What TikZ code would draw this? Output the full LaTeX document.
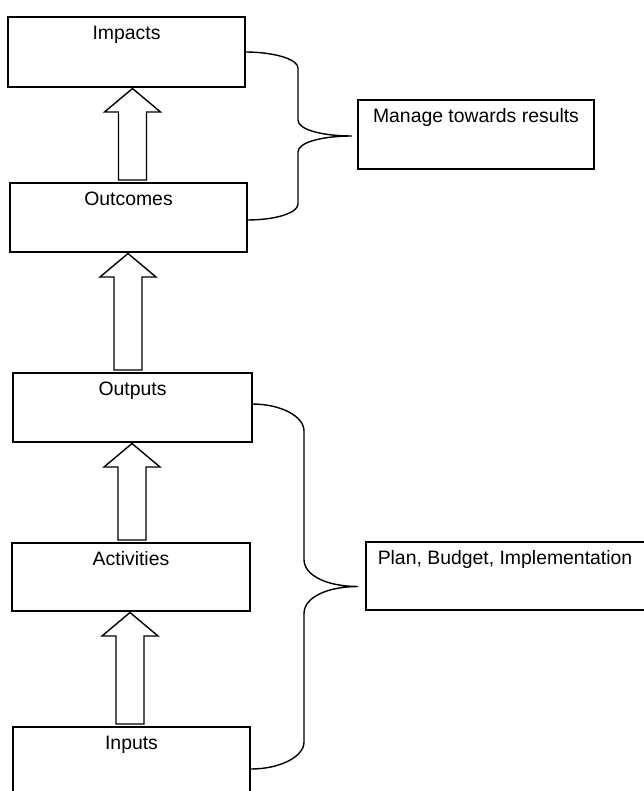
\documentclass[tikz,border=0pt]{standalone}
\usepackage{fontspec}
\setmainfont{Liberation Sans}
\usetikzlibrary{calc}
\tikzset{
  boxnode/.style={draw=black, line width=1.4pt, rectangle, inner sep=0pt, outer sep=0pt},
  lbl/.style={font=\fontsize{19.4}{23}\selectfont, inner sep=0pt, anchor=base, text=black},
  blk/.style={draw=black, line width=1.4pt, fill=white, line join=miter},
  brc/.style={draw=black, line width=1.4pt},
}
% block arrow from bottom box #2 up to top box #1, shifted by #3
\newcommand\blockarr[3]{%
  \draw[blk] let \p1=([xshift=#3]#1.south), \p2=(#2.north) in
    (\x1,\y1-1.5pt) -- (\x1+28pt,\y1-25pt) -- (\x1+14pt,\y1-25pt) -- (\x1+14pt,\y2+3pt)
    -- (\x1-14pt,\y2+3pt) -- (\x1-14pt,\y1-25pt) -- (\x1-28pt,\y1-25pt) -- cycle;}
% curly brace connector: #1 start, #2 end, #3 tip coordinate, #4 curve size, #5 spine offset
\newcommand\bracecon[5]{%
  \draw[brc] let \p1=(#1), \p2=(#2), \p3=(#3) in
    (\p1) .. controls (\x1+0.55*#5pt,\y1) and (\x1+#5pt,\y1-0.45*#4pt) .. (\x1+#5pt,\y1-#4pt)
    -- (\x1+#5pt,\y3+#4pt) .. controls (\x1+#5pt,\y3+0.4*#4pt) and (\x1+#5pt+0.45*#5pt,\y3) .. (\p3)
    .. controls (\x1+#5pt+0.45*#5pt,\y3) and (\x1+#5pt,\y3-0.4*#4pt) .. (\x1+#5pt,\y3-#4pt)
    -- (\x1+#5pt,\y2+#4pt) .. controls (\x1+#5pt,\y2+0.45*#4pt) and (\x2+0.55*#5pt,\y2) .. (\p2);}
\begin{document}
\begin{tikzpicture}[x=1pt,y=-1pt]
\useasboundingbox (0,0) rectangle (643,791);
\fill[white] (0,0) rectangle (643,791);

\node[boxnode, minimum width=237pt, minimum height=70pt] (imp) at (126.5,52) {};
\node[boxnode, minimum width=237pt, minimum height=69pt] (out) at (128.5,217.5) {};
\node[boxnode, minimum width=239pt, minimum height=69pt] (opt) at (132.5,407.5) {};
\node[boxnode, minimum width=238pt, minimum height=68pt] (act) at (131,577) {};
\node[boxnode, minimum width=237pt, minimum height=69pt] (inp) at (131.5,761.5) {};
\node[boxnode, minimum width=236pt, minimum height=69pt] (mng) at (476,134.5) {};
\node[boxnode, minimum width=279pt, minimum height=68pt] (pln) at (505.5,576) {};

\node[lbl] (impT) at ([yshift=-22.5pt]imp.north) {Impacts};
\node[lbl] (outT) at ([yshift=-22.5pt]out.north) {Outcomes};
\node[lbl] (optT) at ([yshift=-22.5pt]opt.north) {Outputs};
\node[lbl] (actT) at ([yshift=-22.5pt]act.north) {Activities};
\node[lbl] (inpT) at ([yshift=-22.5pt]inp.north) {Inputs};
\node[lbl] (mngT) at ([yshift=-22.5pt]mng.north) {Manage towards results};
\node[lbl] (plnT) at ([yshift=-22.5pt,xshift=-0.5pt]pln.north) {Plan, Budget, Implementation};

\blockarr{imp}{out}{6pt}
\blockarr{out}{opt}{-0.5pt}
\blockarr{opt}{act}{-0.5pt}
\blockarr{act}{inp}{-1pt}

\coordinate (b1s) at (imp.east);
\coordinate (b1e) at ([yshift=-2.5pt]out.east);
\coordinate (b1t) at ($(b1s)!0.5!(b1e)$);
\coordinate (b1tip) at ([xshift=-6pt]b1t -| mng.west);
\coordinate (b2s) at ([yshift=3.5pt]opt.east);
\coordinate (b2e) at ([yshift=-7.5pt,xshift=1pt]inp.east);
\coordinate (b2t) at ($(b2s)!0.5!(b2e)$);
\coordinate (b2tip) at ([xshift=-8pt]b2t -| pln.west);

\bracecon{b1s}{b1e}{b1tip}{16}{53}
\bracecon{b2s}{b2e}{b2tip}{27}{52}
\end{tikzpicture}
\end{document}
